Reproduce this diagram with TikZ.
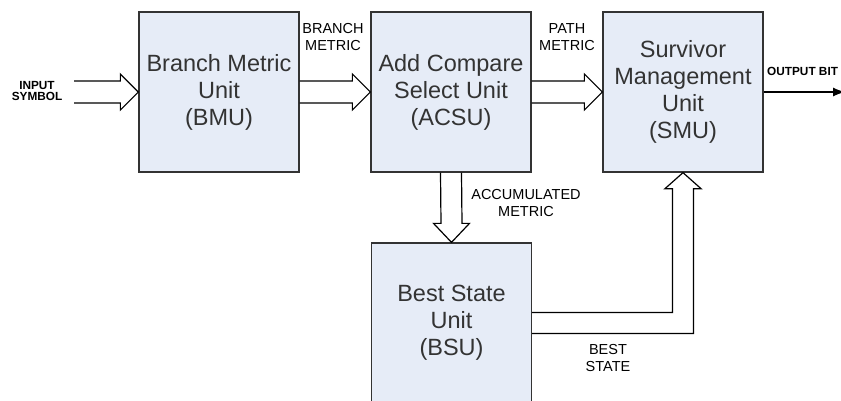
\documentclass[tikz,border=0pt]{standalone}
\usepackage{fontspec}
\setmainfont{Liberation Sans}
\usetikzlibrary{calc,arrows.meta}

\definecolor{unitfill}{HTML}{E6ECF7}
\definecolor{unitline}{HTML}{333333}
\definecolor{unittext}{HTML}{333333}

\tikzset{
  unit/.style={draw=unitline, line width=1.3pt, fill=unitfill,
    minimum width=160pt, minimum height=160pt, inner sep=0pt,
    align=center, text=unittext,
    font=\fontsize{23.5}{27}\selectfont},
  biglabel/.style={align=center, inner sep=0pt,
    font=\fontsize{14.5}{17}\selectfont},
  boldlabel/.style={align=center, inner sep=0pt,
    font=\bfseries\fontsize{11.8}{11.5}\selectfont},
  hollow/.style={draw=black, line width=1.2pt, line join=miter}
}

% hollow (double-line) arrow pointing right: #1 tail point, #2 tip point
\newcommand{\hollowright}[2]{%
  \draw[hollow] ($(#1)+(0,-11)$) -- ($(#2)+(-18,-11)$) -- ($(#2)+(-18,-18)$)
    -- (#2) -- ($(#2)+(-18,18)$) -- ($(#2)+(-18,11)$) -- ($(#1)+(0,11)$);}

\begin{document}
\begin{tikzpicture}[x=1pt, y=-1pt]
  \useasboundingbox (0,0) rectangle (841,400);

  % processing units
  \node[unit] (bmu)  at (219,92)  {Branch Metric\\Unit\\(BMU)};
  \node[unit] (acsu) at (451,92)  {Add Compare\\Select Unit\\(ACSU)};
  \node[unit] (smu)  at (683,92)  {Survivor\\Management\\Unit\\(SMU)};
  \node[unit] (bsu)  at (451.5,323) {Best State\\Unit\\(BSU)};

  % free ends
  \coordinate (insym) at (74,92);
  \coordinate (outbit) at (845,92);

  % horizontal data paths
  \hollowright{insym}{bmu.west}
  \hollowright{bmu.east}{acsu.west}
  \hollowright{acsu.east}{smu.west}

  % accumulated metric: ACSU down to BSU
  \draw[hollow] ($(acsu.south)+(-10.5,0)$) -- ($(bsu.north)+(-10.5,-19)$)
    -- ($(bsu.north)+(-18,-19)$) -- (bsu.north) -- ($(bsu.north)+(18,-19)$)
    -- ($(bsu.north)+(10.5,-19)$) -- ($(acsu.south)+(10.5,0)$);

  % best state: BSU around and up to SMU
  \draw[hollow] ($(bsu.east)+(0,-10.5)$) -| ($(smu.south)+(-10.5,16)$)
    -- ($(smu.south)+(-18,16)$) -- (smu.south) -- ($(smu.south)+(18,16)$)
    -- ($(smu.south)+(10.5,16)$) |- ($(bsu.east)+(0,10.5)$);

  % decoded output
  \draw[line width=1.2pt, -{Latex[length=12pt,width=9pt]}] (smu.east) -- (outbit);

  % labels
  \node[boldlabel] (lin) at (37,91) {INPUT\\SYMBOL};
  \node[biglabel] (lbm) at (333,37) {BRANCH\\METRIC};
  \node[biglabel] (lpm) at (567,37) {PATH\\METRIC};
  \node[biglabel] (lam) at (526,203) {ACCUMULATED\\METRIC};
  \node[biglabel] (lbs) at (608,358) {BEST\\STATE};
  \node[boldlabel, anchor=base west] (lout) at (767,75) {OUTPUT BIT};
\end{tikzpicture}
\end{document}
